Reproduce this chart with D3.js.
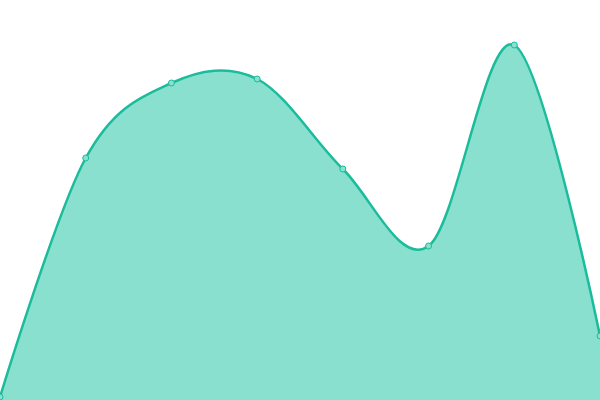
<!DOCTYPE html>
<html><head><meta charset="utf-8">
<script src="https://cdn.jsdelivr.net/npm/d3@7"></script>
<style>html,body{margin:0;padding:0;background:#fff;}svg{display:block;}</style>
</head><body>
<svg id="c" width="600" height="400"></svg>
<script>
const categories = ["A","B","C","D","E","F","G","H"];
const values = [3, 242, 317, 321, 231, 154, 355, 64];

const W = 600, H = 400;
const svg = d3.select("#c");
const x = d3.scalePoint().domain(categories).range([0, W]);
const y = d3.scaleLinear().domain([0, 400]).range([H, 0]);
const data = categories.map((c, i) => ({c, v: values[i]}));
const curve = d3.curveCardinal.tension(0);

svg.append("path").datum(data)
  .attr("d", d3.area().x(d => x(d.c)).y0(y(0)).y1(d => y(d.v)).curve(curve))
  .attr("fill", "#8ae0cf");
svg.append("path").datum(data)
  .attr("d", d3.line().x(d => x(d.c)).y(d => y(d.v)).curve(curve))
  .attr("fill", "none").attr("stroke", "#1abc9c").attr("stroke-width", 2.5);
svg.selectAll("circle").data(data).join("circle")
  .attr("cx", d => x(d.c)).attr("cy", d => y(d.v)).attr("r", 3)
  .attr("fill", "#8ae0cf").attr("stroke", "#1abc9c").attr("stroke-width", 1);
</script>
</body></html>
